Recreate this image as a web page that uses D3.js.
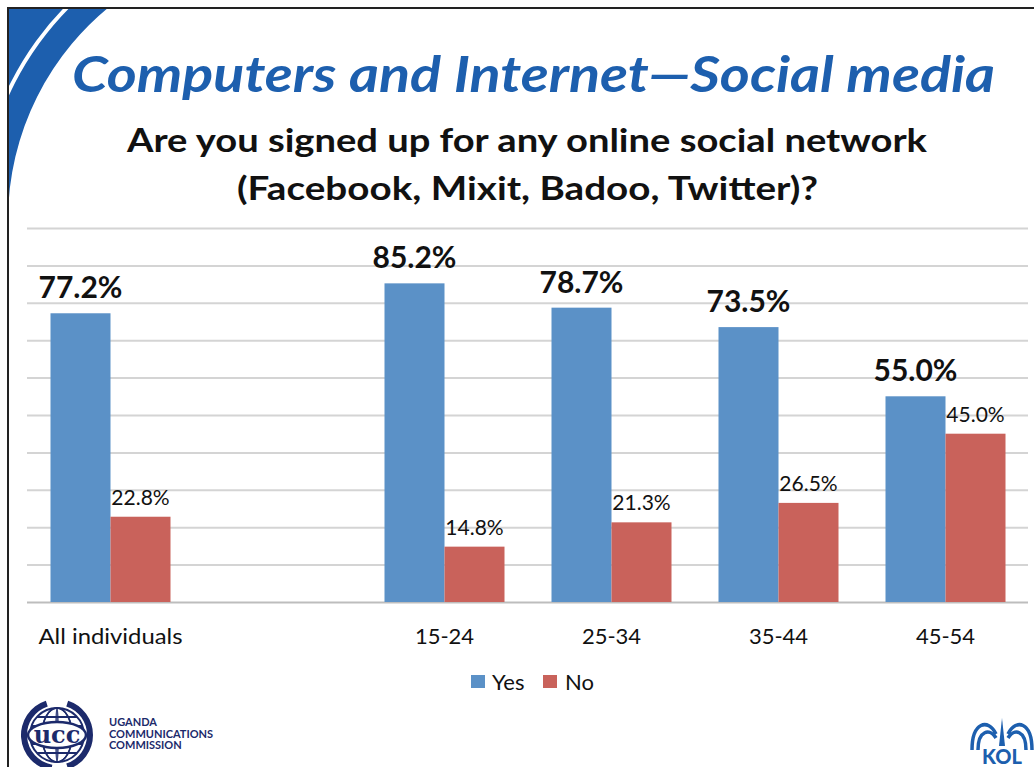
<!DOCTYPE html>
<html>
<head>
<meta charset="utf-8">
<script src="https://cdn.jsdelivr.net/npm/d3@7"></script>
<style>
  body { margin: 0; background: #fff; }
  svg { display: block; }
  text { font-family: Lato, "Open Sans", sans-serif; }
</style>
</head>
<body>
<svg id="chart"></svg>
<script>
// data
const categories = ["All individuals", " ", "15-24", "25-34", "35-44", "45-54"];
const seriesNames = ["Yes", "No"];
const yesValues = [77.2, null, 85.2, 78.7, 73.5, 55.0];
const noValues = [22.8, null, 14.8, 21.3, 26.5, 45.0];
const yTickValues = [0, 10, 20, 30, 40, 50, 60, 70, 80, 90, 100];

const width = 1034, height = 767;
const colors = { Yes: "#5b91c7", No: "#c9625b" };

const svg = d3.select("#chart")
    .attr("width", width)
    .attr("height", height);

svg.append("rect").attr("width", width).attr("height", height).attr("fill", "#fff");

// corner decoration (blue swoosh)
svg.append("clipPath").attr("id", "slideClip")
    .append("rect").attr("x", 8).attr("y", 8).attr("width", width).attr("height", height);

const deco = svg.append("g").attr("clip-path", "url(#slideClip)");
const cx = 283, cy = 220, r1 = 275;
deco.append("path")
    .attr("d", () => {
        const p = d3.path();
        p.moveTo(0, 0);
        p.lineTo(cx - Math.sqrt(r1 * r1 - (cy - 0) * (cy - 0)), 0);
        p.arc(cx, cy, r1, Math.atan2(0 - cy, cx - Math.sqrt(r1 * r1 - cy * cy) - cx), Math.PI, true);
        p.lineTo(0, cy);
        p.closePath();
        return p.toString();
    })
    .attr("fill", "#1d5fae");
deco.append("path")
    .attr("d", d3.arc()({ innerRadius: 301, outerRadius: 305, startAngle: -Math.PI / 2, endAngle: -Math.PI / 10 }))
    .attr("transform", `translate(${cx},${cy})`)
    .attr("fill", "#fff");

// slide border
svg.append("path")
    .attr("d", "M8,767V8H1034")
    .attr("fill", "none")
    .attr("stroke", "#222")
    .attr("stroke-width", 2);

// titles
svg.append("text")
    .attr("x", 72).attr("y", 92)
    .attr("textLength", 923).attr("lengthAdjust", "spacingAndGlyphs")
    .style("font-size", "50px").style("font-weight", "bold").style("font-style", "italic")
    .attr("fill", "#1d5fae")
    .text("Computers and Internet\u2014Social media");

svg.append("text")
    .attr("x", 127).attr("y", 152)
    .attr("textLength", 800).attr("lengthAdjust", "spacingAndGlyphs")
    .style("font-size", "33px").style("font-weight", "bold")
    .attr("fill", "#111")
    .text("Are you signed up for any online social network");
svg.append("text")
    .attr("x", 237).attr("y", 200)
    .attr("textLength", 581).attr("lengthAdjust", "spacingAndGlyphs")
    .style("font-size", "33px").style("font-weight", "bold")
    .attr("fill", "#111")
    .text("(Facebook, Mixit, Badoo, Twitter)?");

// scales
const x = d3.scaleBand().domain(categories).range([27, 1029]).padding(0);
const xSub = d3.scaleBand().domain(seriesNames)
    .range([(x.bandwidth() - 120) / 2, (x.bandwidth() + 120) / 2]).padding(0);
const y = d3.scaleLinear().domain([0, 100]).range([602, 228]);

// gridlines
const grid = svg.append("g")
    .attr("transform", "translate(27,0)")
    .call(d3.axisLeft(y).tickValues(yTickValues).tickSize(-1001).tickFormat(""));
grid.select(".domain").remove();
grid.selectAll(".tick line")
    .attr("stroke", d => d === 0 ? "#bdbdbd" : "#d4d4d4")
    .attr("stroke-width", 2);

const rows = categories.map((c, i) => ({ cat: c, Yes: yesValues[i], No: noValues[i] }));

const groups = svg.selectAll(".grp")
    .data(rows)
    .enter().append("g")
    .attr("class", "grp")
    .attr("transform", d => `translate(${x(d.cat)},0)`);

groups.selectAll("rect")
    .data(d => seriesNames.filter(k => d[k] != null).map(k => ({ key: k, value: d[k] })))
    .enter().append("rect")
    .attr("x", d => xSub(d.key))
    .attr("width", xSub.bandwidth())
    .attr("y", d => y(d.value))
    .attr("height", d => y(0) - y(d.value))
    .attr("fill", d => colors[d.key]);

groups.selectAll(".lbl")
    .data(d => seriesNames.filter(k => d[k] != null).map(k => ({ key: k, value: d[k] })))
    .enter().append("text")
    .attr("class", "lbl")
    .attr("x", d => xSub(d.key) + xSub.bandwidth() / 2)
    .attr("y", d => y(d.value) - (d.key === "Yes" ? 15 : 12))
    .attr("text-anchor", "middle")
    .style("font-size", d => d.key === "Yes" ? "30px" : "21px")
    .style("font-weight", d => d.key === "Yes" ? "bold" : "normal")
    .attr("fill", "#111")
    .text(d => d.value.toFixed(1) + "%");

// x axis labels
const xAxis = svg.append("g")
    .attr("transform", "translate(0,602)")
    .call(d3.axisBottom(x).tickSize(0).tickPadding(0));
xAxis.select(".domain").remove();
xAxis.selectAll("text")
    .attr("y", 42)
    .attr("dy", null)
    .attr("fill", "#111")
    .style("font-size", "22px");
xAxis.selectAll("text")
    .filter(d => d === categories[0])
    .attr("textLength", 144).attr("lengthAdjust", "spacingAndGlyphs");

// legend
const legendPos = { Yes: 471, No: 543 };
const legend = svg.selectAll(".leg")
    .data(seriesNames)
    .enter().append("g")
    .attr("class", "leg")
    .attr("transform", d => `translate(${legendPos[d]},675)`);
legend.append("rect").attr("width", 14).attr("height", 13).attr("fill", d => colors[d]);
legend.append("text")
    .attr("x", d => d === "Yes" ? 21 : 22)
    .attr("y", 15)
    .style("font-size", "22px")
    .attr("fill", "#111")
    .text(d => d);

// UCC logo (bottom left)
const ucc = svg.append("g").attr("transform", "translate(57,735)");
ucc.append("circle").attr("r", 27).attr("fill", "#fff").attr("stroke", "#1c2a6b").attr("stroke-width", 2);
[-18, -9, 9, 18].forEach(dy => {
    const hw = Math.sqrt(27 * 27 - dy * dy);
    ucc.append("line").attr("x1", -hw).attr("x2", hw).attr("y1", dy).attr("y2", dy)
        .attr("stroke", "#1c2a6b").attr("stroke-width", 2);
});
[-14, 0, 14].forEach(dx => {
    ucc.append("ellipse").attr("rx", Math.abs(dx) + 1).attr("ry", 27)
        .attr("fill", "none").attr("stroke", "#1c2a6b").attr("stroke-width", 1.5);
});
ucc.append("path")
    .attr("d", d3.arc()({ innerRadius: 30, outerRadius: 36, startAngle: -Math.PI * 0.95, endAngle: -Math.PI * 0.1 }))
    .attr("fill", "#1c2a6b");
ucc.append("path")
    .attr("d", d3.arc()({ innerRadius: 30, outerRadius: 36, startAngle: Math.PI * 0.1, endAngle: Math.PI * 0.9 }))
    .attr("fill", "#1c2a6b");
ucc.append("ellipse").attr("rx", 29).attr("ry", 13).attr("fill", "#fff").attr("stroke", "#1c2a6b").attr("stroke-width", 2.5);
ucc.append("text").attr("text-anchor", "middle").attr("y", 8)
    .style("font-family", "'DejaVu Serif', serif").style("font-size", "24px").style("font-weight", "bold")
    .attr("fill", "#1c2a6b").text("ucc");

svg.selectAll(".ucctxt")
    .data(["UGANDA", "COMMUNICATIONS", "COMMISSION"])
    .enter().append("text")
    .attr("x", 109).attr("y", (d, i) => 726 + i * 11.5)
    .style("font-size", "11px").style("font-weight", "bold")
    .attr("fill", "#1c2a6b")
    .text(d => d);

// KOL logo (bottom right)
const kol = svg.append("g").attr("transform", "translate(1002,736)");
kol.append("path")
    .attr("d", "M-30,14 C-30,-14 -14,-18 -6,-2 M30,14 C30,-14 14,-18 6,-2 M-24,14 C-24,-6 -12,-8 -6,2 M24,14 C24,-6 12,-8 6,2")
    .attr("fill", "none").attr("stroke", "#1d5fae").attr("stroke-width", 3.5);
kol.append("path").attr("d", "M0,-18 L3,10 L-3,10 Z").attr("fill", "#1d5fae");
kol.append("text").attr("text-anchor", "middle").attr("y", 28)
    .style("font-size", "20px").style("font-weight", "900")
    .attr("fill", "#1d5fae").text("KOL");
</script>
</body>
</html>
